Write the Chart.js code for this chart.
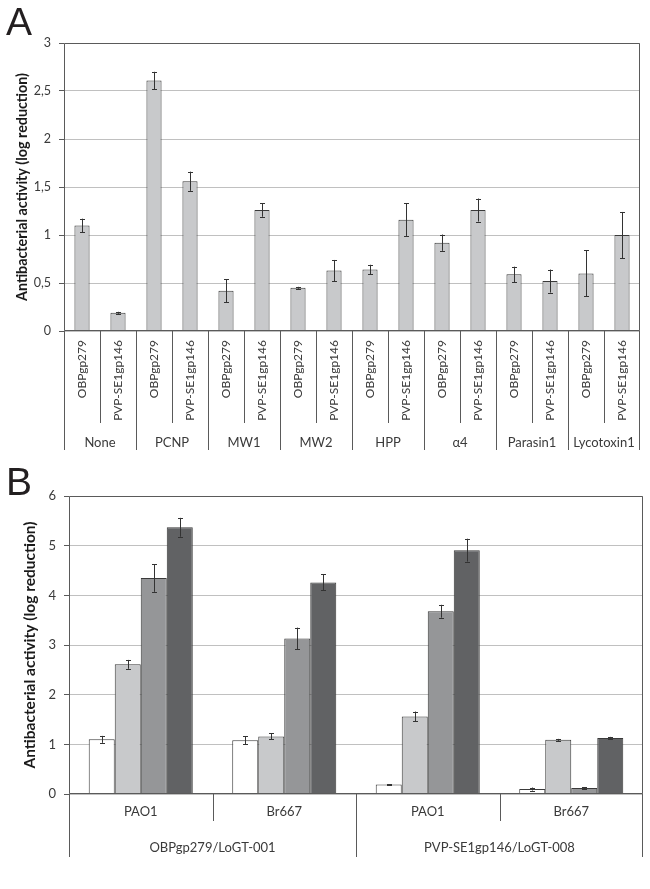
<!DOCTYPE html>
<html><head><meta charset="utf-8">
<script src="https://cdn.jsdelivr.net/npm/chart.js@4.4.1/dist/chart.umd.min.js"></script>
<style>
html,body{margin:0;padding:0;background:#fff;}
#wrap{position:relative;width:650px;height:889px;overflow:hidden;background:#fff;}
.panel{position:absolute;left:0;width:650px;}
#pA{top:0;height:460px;}
#pB{top:460px;height:429px;}
.letter{position:absolute;font-family:"Liberation Sans",Arial,sans-serif;font-size:39px;color:#231f20;line-height:1;}
</style></head>
<body><div id="wrap">
<div class="panel" id="pA"><canvas id="cA" width="650" height="460"></canvas></div>
<div class="panel" id="pB"><canvas id="cB" width="650" height="429"></canvas></div>
<div class="letter" style="left:6px;top:2px">A</div>
<div class="letter" style="left:6px;top:462px">B</div>
</div>
<script>
// ---------- Panel A data ----------
const groupsA = ['None','PCNP','MW1','MW2','HPP','α4','Parasin1','Lycotoxin1'];
const phagesA = ['OBPgp279','PVP-SE1gp146'];
const valuesA = [1.10,0.19, 2.61,1.56, 0.42,1.26, 0.45,0.63, 0.64,1.16, 0.92,1.26, 0.59,0.52, 0.60,1.00];
const errorsA = [0.07,0.01, 0.09,0.10, 0.12,0.07, 0.01,0.11, 0.05,0.17, 0.085,0.12, 0.08,0.12, 0.24,0.24];
const ticksA = [0,0.5,1,1.5,2,2.5,3];

// ---------- Panel B data ----------
const strainsB = ['PAO1','Br667','PAO1','Br667'];
const endolysinsB = ['OBPgp279/LoGT-001','PVP-SE1gp146/LoGT-008'];
const series1B = [1.10,1.08,0.19,0.10];
const series2B = [2.61,1.16,1.56,1.09];
const series3B = [4.35,3.13,3.68,0.12];
const series4B = [5.37,4.26,4.91,1.13];
const err1B = [0.07,0.08,0.01,0.03];
const err2B = [0.09,0.06,0.10,0.02];
const err3B = [0.28,0.22,0.13,0.02];
const err4B = [0.19,0.16,0.23,0.02];
const ticksB = [0,1,2,3,4,5,6];

const yTitle = 'Antibacterial activity (log reduction)';

Chart.defaults.font.family = 'Lato';
Chart.defaults.color = '#3a3a3a';
Chart.defaults.animation = false;

const AXIS = '#5a5a5a';
const GRID = '#c0c0c0';

const errorBars = {
  id: 'errorBars',
  afterDatasetsDraw(chart) {
    const ctx = chart.ctx, y = chart.scales.y;
    chart.data.datasets.forEach((ds, di) => {
      if (!ds.errors) return;
      const meta = chart.getDatasetMeta(di);
      meta.data.forEach((bar, i) => {
        const v = ds.data[i], e = ds.errors[i];
        const yt = y.getPixelForValue(v + e), yb = y.getPixelForValue(v - e);
        const x = Math.round(bar.x) + 0.5;
        const cap = 2.5;
        ctx.save();
        ctx.strokeStyle = '#333';
        ctx.lineWidth = 1;
        ctx.beginPath();
        ctx.moveTo(x, yt); ctx.lineTo(x, yb);
        ctx.moveTo(x - cap, Math.round(yt) + 0.5); ctx.lineTo(x + cap, Math.round(yt) + 0.5);
        ctx.moveTo(x - cap, Math.round(yb) + 0.5); ctx.lineTo(x + cap, Math.round(yb) + 0.5);
        ctx.stroke();
        ctx.restore();
      });
    });
  }
};

const frame = {
  id: 'frame',
  afterDraw(chart, args, opts) {
    const ctx = chart.ctx, a = chart.chartArea;
    ctx.save();
    ctx.strokeStyle = AXIS;
    ctx.lineWidth = 1;
    ctx.beginPath();
    const l = Math.round(a.left) + 0.5, r = Math.round(a.right) - 0.5;
    const t = Math.round(a.top) + 0.5, b = Math.round(a.bottom) - 0.5;
    ctx.moveTo(l, b); ctx.lineTo(l, t); ctx.lineTo(r, t); ctx.lineTo(r, b); ctx.lineTo(l, b);
    ctx.stroke();
    // category separators below the axis
    const xs = chart.scales.x, xg = chart.scales.x2;
    const n = xs.ticks.length, g = opts.groupSize;
    for (let i = 0; i <= n; i++) {
      let px;
      if (i === 0) px = a.left;
      else if (i === n) px = a.right;
      else px = (xs.getPixelForValue(i - 1) + xs.getPixelForValue(i)) / 2;
      px = Math.round(px) + 0.5;
      if (i === n) px -= 1;
      const end = (i % g === 0) ? xg.bottom - opts.groupGap : xs.bottom;
      ctx.beginPath();
      ctx.moveTo(px, b);
      ctx.lineTo(px, end);
      ctx.stroke();
    }
    ctx.restore();
  }
};

const commaFmt = v => String(v).replace('.', ',');

// ---------- Chart A ----------
new Chart(document.getElementById('cA'), {
  type: 'bar',
  data: {
    labels: groupsA.flatMap(() => phagesA),
    datasets: [{
      label: 'Antibacterial activity',
      data: valuesA,
      errors: errorsA,
      backgroundColor: '#c8c9cb',
      borderColor: '#3a3a3a',
      borderWidth: 1,
      barPercentage: 0.42,
      categoryPercentage: 1
    }]
  },
  options: {
    responsive: false,
    layout: { padding: { top: 43, right: 10, left: 0, bottom: 0 } },
    plugins: { legend: { display: false }, tooltip: { enabled: false }, frame: { groupSize: 2, groupGap: 10 } },
    scales: {
      x: {
        position: 'bottom',
        grid: { display: false, drawTicks: false },
        border: { display: false },
        ticks: { autoSkip: false, minRotation: 90, maxRotation: 90, padding: 9, color: '#3a3a3a', font: { size: 12 } },
        afterFit: s => { s.height = 92; }
      },
      x2: {
        type: 'category',
        position: 'bottom',
        labels: groupsA,
        offset: true,
        grid: { display: false, drawTicks: false },
        border: { display: false },
        ticks: { autoSkip: false, maxRotation: 0, padding: 12, color: '#3a3a3a', font: { size: 13 } },
        afterFit: s => { s.height = 37; }
      },
      y: {
        min: 0, max: 3,
        afterBuildTicks: s => { s.ticks = ticksA.map(v => ({ value: v })); },
        grid: { color: GRID, tickColor: AXIS, tickLength: 5, drawTicks: true },
        border: { display: false },
        ticks: { padding: 8, color: '#3a3a3a', font: { size: 12.5 }, callback: commaFmt },
        title: { display: true, text: yTitle, color: '#1a1a1a', font: { size: 14.3, weight: 'bold' }, padding: { top: 13.4, bottom: 0 } },
        afterFit: s => { s.width = 64; }
      }
    }
  },
  plugins: [errorBars, frame]
});

// ---------- Chart B ----------
const mk = (label, data, errors, color) => ({
  label, data, errors,
  backgroundColor: color, borderColor: '#3a3a3a', borderWidth: 1,
  barPercentage: 1, categoryPercentage: 0.725
});

new Chart(document.getElementById('cB'), {
  type: 'bar',
  data: {
    labels: strainsB,
    datasets: [
      mk('Series 1', series1B, err1B, '#ffffff'),
      mk('Series 2', series2B, err2B, '#c8c9cb'),
      mk('Series 3', series3B, err3B, '#959698'),
      mk('Series 4', series4B, err4B, '#616264')
    ]
  },
  options: {
    responsive: false,
    layout: { padding: { top: 36, right: 7, left: 0, bottom: 32 } },
    plugins: { legend: { display: false }, tooltip: { enabled: false }, frame: { groupSize: 2, groupGap: 0 } },
    scales: {
      x: {
        position: 'bottom',
        grid: { display: false, drawTicks: false },
        border: { display: false },
        ticks: { autoSkip: false, maxRotation: 0, padding: 10.5, color: '#3a3a3a', font: { size: 13 } },
        afterFit: s => { s.height = 27; }
      },
      x2: {
        type: 'category',
        position: 'bottom',
        labels: endolysinsB,
        offset: true,
        grid: { display: false, drawTicks: false },
        border: { display: false },
        ticks: { autoSkip: false, maxRotation: 0, padding: 19.5, color: '#3a3a3a', font: { size: 13 } },
        afterFit: s => { s.height = 36; }
      },
      y: {
        min: 0, max: 6,
        afterBuildTicks: s => { s.ticks = ticksB.map(v => ({ value: v })); },
        grid: { color: GRID, tickColor: AXIS, tickLength: 5, drawTicks: true },
        border: { display: false },
        ticks: { padding: 8, color: '#3a3a3a', font: { size: 13 }, callback: commaFmt },
        title: { display: true, text: yTitle, color: '#1a1a1a', font: { size: 15.5, weight: 'bold' }, padding: { top: 20.7, bottom: 0 } },
        afterFit: s => { s.width = 69; }
      }
    }
  },
  plugins: [errorBars, frame]
});
</script>
</body></html>
